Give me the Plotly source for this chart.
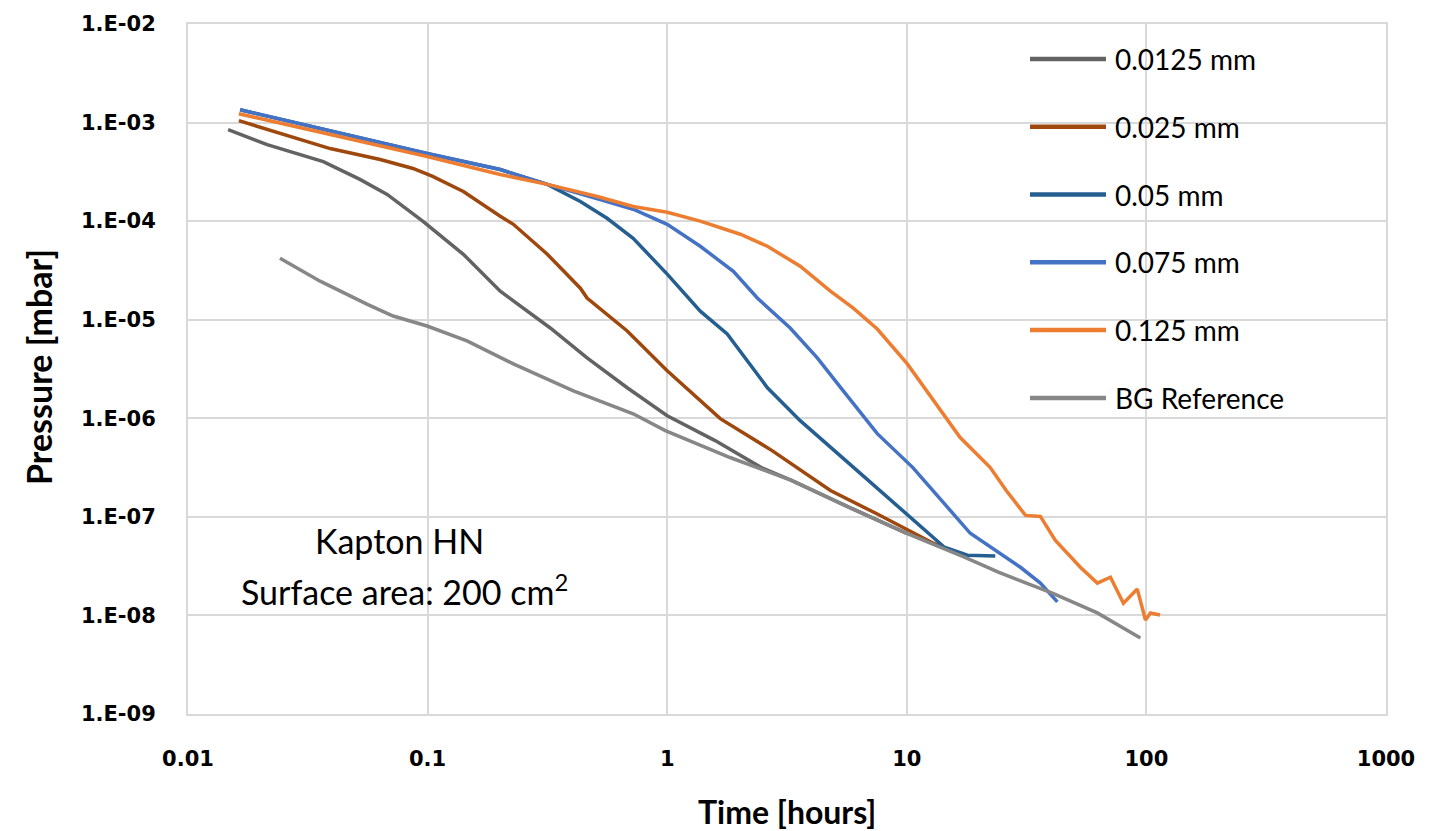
import plotly.graph_objects as go

# Outgassing pump-down curves, Kapton HN films of different thickness
SERIES_NAMES = ["0.0125 mm", "0.025 mm", "0.05 mm", "0.075 mm", "0.125 mm", "BG Reference"]
SERIES_COLORS = ["#636363", "#9E480E", "#255E91", "#4472C4", "#ED7D31", "#878787"]

# Time [hours]
T_0125 = [0.0147, 0.0214, 0.0367, 0.0522, 0.0678, 0.0957, 0.141, 0.201, 0.228, 0.325,
          0.463, 0.681, 1.0, 1.585, 2.47, 3.30, 5.75, 10.0]
T_025 = [0.0163, 0.0242, 0.0392, 0.0634, 0.0869, 0.105, 0.141, 0.201, 0.228, 0.316,
         0.434, 0.463, 0.681, 1.0, 1.665, 2.74, 4.80, 7.46, 12.9, 14.5]
T_05 = [0.0165, 0.0461, 0.0995, 0.201, 0.316, 0.434, 0.561, 0.721, 1.0, 1.374,
        1.78, 2.62, 3.59, 5.75, 9.22, 14.35, 17.9, 23.4]
T_075 = [0.0165, 0.0461, 0.0995, 0.201, 0.316, 0.525, 0.721, 1.0, 1.374, 1.888,
         2.377, 3.26, 4.23, 5.43, 7.53, 10.6, 14.35, 18.4, 29.8, 36.1, 42.5]
T_125 = [0.0163, 0.0461, 0.0995, 0.201, 0.316, 0.511, 0.721, 1.0, 1.374, 2.018,
         2.62, 3.59, 4.80, 5.98, 7.53, 10.05, 12.9, 16.7, 22.3, 26.0,
         31.3, 36.1, 41.7, 53.0, 62.4, 70.8, 80.2, 91.6, 99.1, 104, 114]
T_BG = [0.0242, 0.0356, 0.0558, 0.0718, 0.0995, 0.146, 0.228, 0.406, 0.721, 0.982,
        1.83, 3.30, 5.75, 10.0, 17.4, 24.1, 40.5, 62.4, 94.4]

# Pressure [mbar]
P_0125 = [8.47e-4, 5.98e-4, 4.02e-4, 2.65e-4, 1.87e-4, 9.95e-5, 4.61e-5, 1.95e-5, 1.55e-5, 8.24e-6,
          4.10e-6, 2.04e-6, 1.06e-6, 5.94e-7, 3.16e-7, 2.34e-7, 1.25e-7, 6.81e-8]
P_025 = [1.045e-3, 7.73e-4, 5.45e-4, 4.22e-4, 3.42e-4, 2.84e-4, 2.00e-4, 1.12e-4, 9.29e-5, 4.61e-5,
         2.09e-5, 1.66e-5, 7.69e-6, 3.03e-6, 9.91e-7, 4.70e-7, 1.85e-7, 1.08e-7, 5.40e-8, 4.80e-8]
P_05 = [1.35e-3, 7.55e-4, 4.85e-4, 3.34e-4, 2.36e-4, 1.585e-4, 1.07e-4, 6.70e-5, 2.90e-5, 1.22e-5,
        7.16e-6, 2.04e-6, 9.46e-7, 3.47e-7, 1.25e-7, 4.92e-8, 4.08e-8, 4.00e-8]
P_075 = [1.35e-3, 7.55e-4, 4.85e-4, 3.34e-4, 2.36e-4, 1.66e-4, 1.32e-4, 9.29e-5, 5.56e-5, 3.10e-5,
         1.66e-5, 8.24e-6, 4.10e-6, 1.90e-6, 6.98e-7, 3.16e-7, 1.37e-7, 6.81e-8, 3.08e-8, 2.13e-8, 1.37e-8]
P_125 = [1.23e-3, 6.87e-4, 4.52e-4, 2.97e-4, 2.36e-4, 1.78e-4, 1.41e-4, 1.23e-4, 1.0e-4, 7.36e-5,
         5.56e-5, 3.49e-5, 1.95e-5, 1.31e-5, 8.05e-6, 3.56e-6, 1.51e-6, 6.37e-7, 3.16e-7, 1.85e-7,
         1.035e-7, 1.01e-7, 5.78e-8, 3.08e-8, 2.13e-8, 2.44e-8, 1.33e-8, 1.85e-8, 9.0e-9, 1.06e-8, 1.01e-8]
P_BG = [4.21e-5, 2.46e-5, 1.44e-5, 1.09e-5, 8.63e-6, 6.09e-6, 3.56e-6, 1.90e-6, 1.11e-6, 7.50e-7,
        4.00e-7, 2.34e-7, 1.25e-7, 6.81e-8, 3.90e-8, 2.75e-8, 1.68e-8, 1.06e-8, 5.90e-9]

X_TICKS = [0.01, 0.1, 1, 10, 100, 1000]
X_LABELS = ["0.01", "0.1", "1", "10", "100", "1000"]
Y_TICKS = [1e-2, 1e-3, 1e-4, 1e-5, 1e-6, 1e-7, 1e-8, 1e-9]
Y_LABELS = ["1.E-02", "1.E-03", "1.E-04", "1.E-05", "1.E-06", "1.E-07", "1.E-08", "1.E-09"]

TIMES = [T_0125, T_025, T_05, T_075, T_125, T_BG]
PRESSURES = [P_0125, P_025, P_05, P_075, P_125, P_BG]

W, H = 1440, 831
ML, MR, MT, MB = 188, 54, 22, 117
PW, PH = W - ML - MR, H - MT - MB


def px_to_paper(px, py):
    return (px - ML) / PW, (H - MB - py) / PH


fig = go.Figure()
for name, t, p, color in zip(SERIES_NAMES, TIMES, PRESSURES, SERIES_COLORS):
    fig.add_trace(go.Scatter(x=t, y=p, mode="lines", name=name,
                             line=dict(color=color, width=3.5), showlegend=False))

GRID = "#D9D9D9"
tick_font = dict(family="DejaVu Sans", size=21, color="black", weight="bold")

fig.update_layout(
    width=W, height=H,
    margin=dict(l=ML, r=MR, t=MT, b=MB),
    paper_bgcolor="white", plot_bgcolor="white",
    xaxis=dict(type="log", range=[-2, 3], tickvals=X_TICKS, ticktext=X_LABELS,
               showgrid=True, gridcolor=GRID, gridwidth=2, zeroline=False,
               showline=True, linecolor=GRID, linewidth=2, mirror=True,
               ticks="outside", ticklen=25, tickcolor="rgba(0,0,0,0)",
               tickfont=tick_font),
    yaxis=dict(type="log", range=[-9, -2], tickvals=Y_TICKS, ticktext=Y_LABELS,
               showgrid=True, gridcolor=GRID, gridwidth=2, zeroline=False,
               showline=True, linecolor=GRID, linewidth=2, mirror=True,
               ticks="outside", ticklen=26, tickcolor="rgba(0,0,0,0)",
               tickfont=tick_font),
)

annotations = []
shapes = []

# Axis titles
tx, ty = px_to_paper(787, 812)
annotations.append(dict(text="Time [hours]", x=0.5, y=ty, xref="paper", yref="paper",
                        xanchor="center", yanchor="middle", showarrow=False,
                        font=dict(family="Lato", size=32, color="black", weight="bold")))
ax, ay = px_to_paper(38, 366)
annotations.append(dict(text="Pressure [mbar]", x=ax, y=ay, xref="paper", yref="paper",
                        xanchor="center", yanchor="middle", showarrow=False, textangle=-90,
                        font=dict(family="Lato", size=34, color="black", weight="bold")))

# Sample description
for txt, (cx, cy) in [("Kapton HN", (399, 540)),
                      ("Surface area: 200 cm<sup>2</sup>", (404, 590))]:
    px_, py_ = px_to_paper(cx, cy)
    annotations.append(dict(text=txt, x=px_, y=py_, xref="paper", yref="paper",
                            xanchor="center", yanchor="middle", showarrow=False,
                            font=dict(family="Lato", size=34, color="black")))

# Legend drawn inside the plot area
for i, (name, color) in enumerate(zip(SERIES_NAMES, SERIES_COLORS)):
    yy = 57 + 68 * i
    x0, y0 = px_to_paper(1030, yy)
    x1, _ = px_to_paper(1106, yy)
    shapes.append(dict(type="line", xref="paper", yref="paper", x0=x0, x1=x1, y0=y0, y1=y0,
                       line=dict(color=color, width=4.5)))
    xt, _ = px_to_paper(1113, yy)
    annotations.append(dict(text=name, x=xt, y=y0, xref="paper", yref="paper",
                            xanchor="left", yanchor="middle", showarrow=False,
                            font=dict(family="Lato", size=28, color="black")))

fig.update_layout(annotations=annotations, shapes=shapes)
fig.write_html("out.html")
